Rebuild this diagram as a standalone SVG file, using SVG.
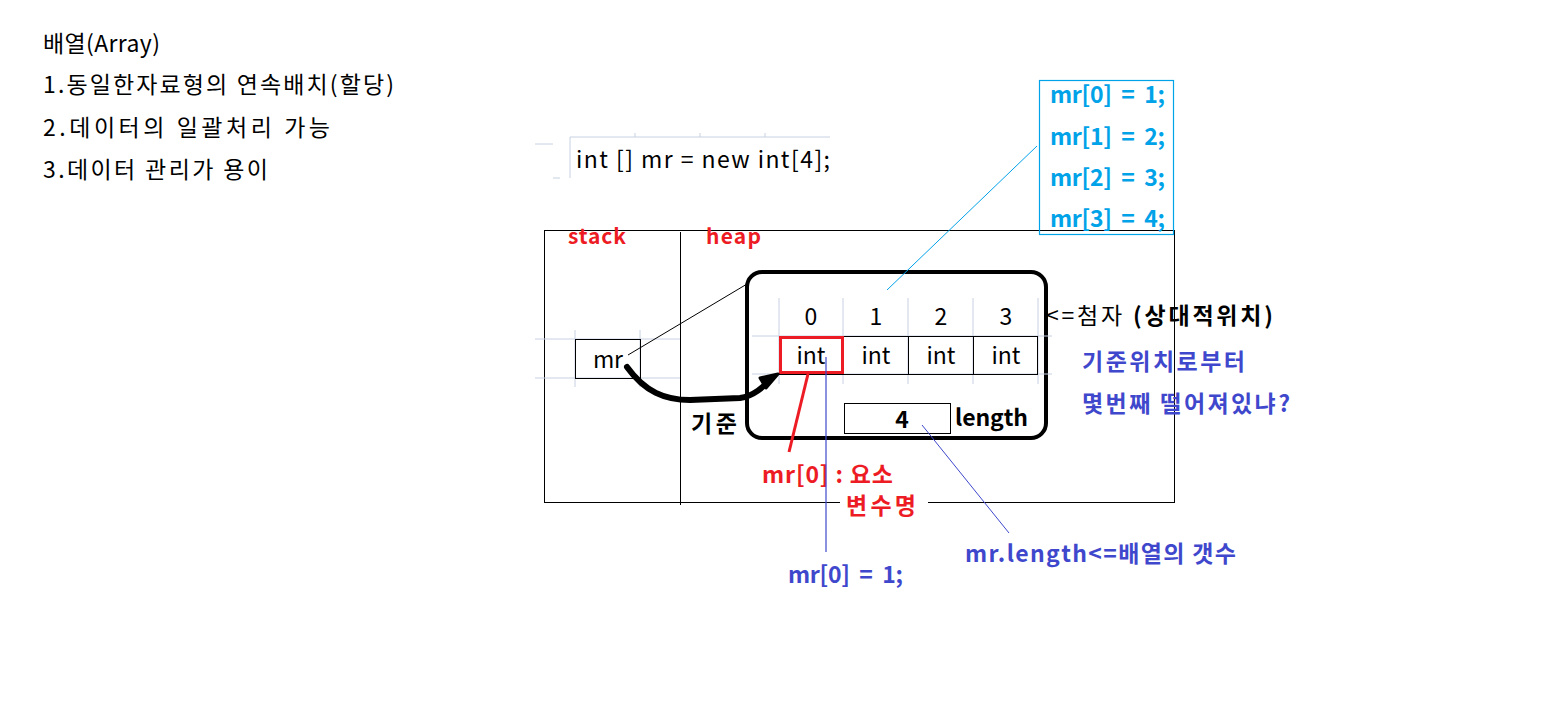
<svg xmlns="http://www.w3.org/2000/svg" width="1560" height="709" viewBox="0 0 1560 709">
<style>
text{font-family:"Noto Sans CJK KR","Noto Sans",sans-serif;white-space:pre}
.n{font-size:23px;fill:#000}
.b{font-weight:bold}
.red{fill:#ed1c24}
.blu{fill:#3f48cc}
.lb{fill:#00a2e8}
.grid{stroke:#c8d0e0;stroke-width:1;fill:none}
.thin{stroke:#000;stroke-width:1;fill:none}
</style>
<rect width="1560" height="709" fill="#fff"/>
<g id="notes">
<text class="n" x="43" y="52" textLength="117" lengthAdjust="spacing">배열(Array)</text>
<text class="n" x="43" y="93" textLength="351" lengthAdjust="spacing">1.동일한자료형의 연속배치(할당)</text>
<text class="n" x="43" y="136" textLength="287" lengthAdjust="spacing">2.데이터의 일괄처리 가능</text>
<text class="n" x="43" y="178" textLength="225" lengthAdjust="spacing">3.데이터 관리가 용이</text>
</g>
<g id="code">
<path class="grid" d="M570 137H830M635 133V137M700 133V137M765 133V137M570 137V178M535 144H553M553 178H560"/>
<text class="n" x="576" y="168" textLength="254" lengthAdjust="spacing">int [] mr = new int[4];</text>
</g>
<g id="memory">
<rect x="544.5" y="230.5" width="630" height="272" class="thin"/>
<line x1="680.5" y1="232" x2="680.5" y2="505" class="thin"/>
<text class="b red" x="568" y="244" font-size="21" textLength="58" lengthAdjust="spacing">stack</text>
<text class="b red" x="706" y="244" font-size="21" textLength="55" lengthAdjust="spacing">heap</text>
</g>
<g id="mr">
<path class="grid" d="M535 339H680M535 378H680M575 330V387M640 330V387"/>
<rect x="575.5" y="339.5" width="65" height="39" class="thin"/>
<text class="n" x="593" y="368" textLength="30" lengthAdjust="spacing">mr</text>
</g>
<g id="heap-object">
<rect x="747" y="272" width="299" height="166" rx="15" fill="none" stroke="#000" stroke-width="4"/>
<path class="grid" d="M752 336H1052M752 374H1052M779 298V384M843 298V384M908 298V384M973 298V384M1038 298V384"/>
<rect x="779.5" y="336.5" width="258" height="38" class="thin"/>
<path class="thin" d="M843.5 336V374M908.5 336V374M973.5 336V374"/>
<rect x="780.5" y="337.5" width="62" height="35" fill="none" stroke="#ed1c24" stroke-width="3"/>
<g class="n" text-anchor="middle">
<text x="811" y="325">0</text><text x="876" y="325">1</text><text x="941" y="325">2</text><text x="1006" y="325">3</text>
<text x="811" y="364">int</text><text x="876" y="364">int</text><text x="941" y="364">int</text><text x="1006" y="364">int</text>
</g>
<rect x="844.5" y="403.5" width="106" height="30" class="thin"/>
<text class="n b" x="902" y="428" text-anchor="middle">4</text>
<text class="n b" x="955" y="426" textLength="73" lengthAdjust="spacing">length</text>
</g>
<g id="labels">
<text class="n" x="1046" y="324" textLength="227" lengthAdjust="spacing">&lt;=첨자 <tspan class="b">(상대적위치)</tspan></text>
<text class="n b blu" x="1082" y="370" textLength="163" lengthAdjust="spacing">기준위치로부터</text>
<text class="n b blu" x="1082" y="412" textLength="208" lengthAdjust="spacing">몇번째 떨어져있냐?</text>
<text class="n b" x="691" y="432" textLength="46" lengthAdjust="spacing">기준</text>
<text class="n b red" x="762" y="483" textLength="131" lengthAdjust="spacing">mr[0] : 요소</text>
<rect x="840" y="492" width="88" height="28" fill="#fff"/>
<text class="n b red" x="846" y="514" textLength="70" lengthAdjust="spacing">변수명</text>
<text class="n b blu" x="788" y="583" textLength="115" lengthAdjust="spacing">mr[0]  =  1;</text>
<text class="n b blu" x="965" y="562" textLength="271" lengthAdjust="spacing">mr.length&lt;=배열의 갯수</text>
</g>
<g id="assign-box">
<rect x="1039.5" y="80.5" width="134" height="154" fill="none" stroke="#00a2e8" stroke-width="1.2"/>
<text class="n b lb" x="1050" y="103" textLength="115" lengthAdjust="spacing">mr[0]  =  1;</text>
<text class="n b lb" x="1050" y="145" textLength="115" lengthAdjust="spacing">mr[1]  =  2;</text>
<text class="n b lb" x="1050" y="186" textLength="115" lengthAdjust="spacing">mr[2]  =  3;</text>
<text class="n b lb" x="1050" y="227" textLength="115" lengthAdjust="spacing">mr[3]  =  4;</text>
</g>
<g id="connectors">
<line x1="628" y1="355" x2="747" y2="284" stroke="#000" stroke-width="1"/>
<path d="M627 367C645 392 665 400 690 400L740 398C755 396 765 385 772 378" fill="none" stroke="#000" stroke-width="6" stroke-linecap="round"/>
<path d="M778 374L760 378L766 388Z" fill="#000" stroke="#000" stroke-width="3" stroke-linejoin="round"/>
<line x1="1037" y1="146" x2="887" y2="290" stroke="#00a2e8" stroke-width="1"/>
<line x1="808" y1="374" x2="789" y2="452" stroke="#ed1c24" stroke-width="3"/>
<line x1="826" y1="357" x2="826" y2="552" stroke="#3f48cc" stroke-width="1.2"/>
<line x1="922" y1="425" x2="1009" y2="533" stroke="#3f48cc" stroke-width="1"/>
</g>
</svg>
